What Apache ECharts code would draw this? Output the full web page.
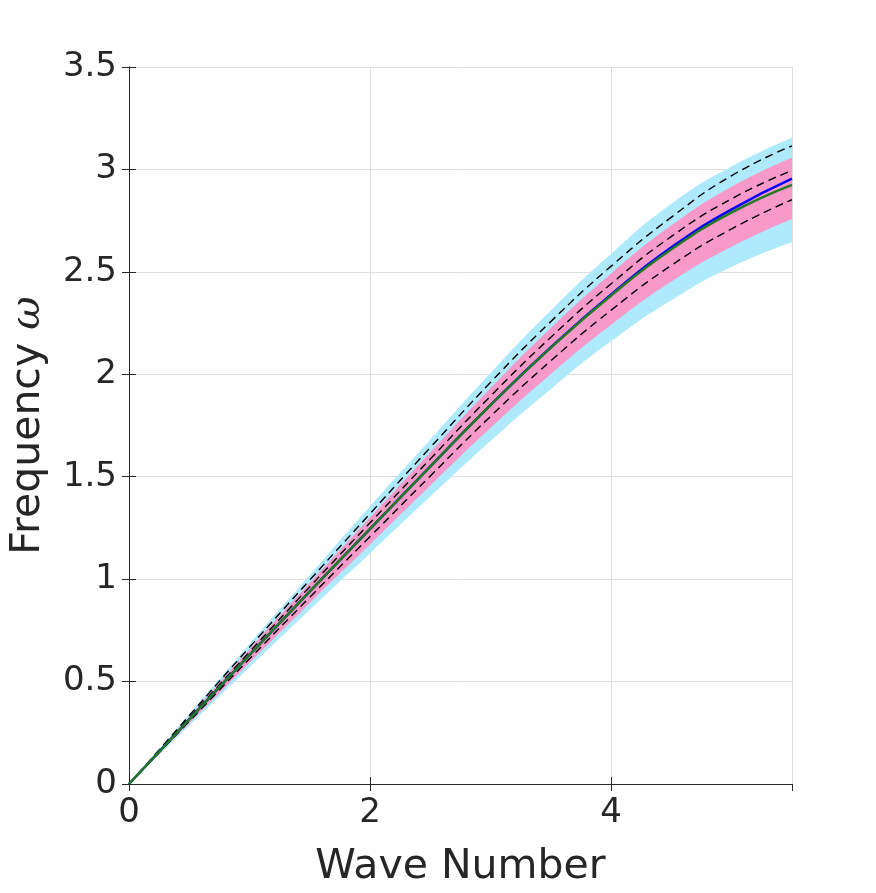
<!DOCTYPE html>
<html>
<head>
    <meta charset="utf-8">
    <title>Dispersion</title>
    <script src="https://cdn.jsdelivr.net/npm/echarts@6/dist/echarts.min.js"></script>
    <style>
        html, body { margin: 0; padding: 0; background: #fff; }
    </style>
</head>
<body>
    <div id="main" style="width: 876px;height:893px;"></div>
    <script type="text/javascript">
        // values
        var waveNumber = [0, 0.5, 1, 1.5, 2, 2.5, 3, 3.5, 4, 4.5, 5, 5.5];
        var omegaGreen = [0, 0.315, 0.63, 0.94, 1.245, 1.55, 1.85, 2.13, 2.385, 2.61, 2.79, 2.925];
        var omegaBlue  = [0, 0.315, 0.63, 0.94, 1.245, 1.55, 1.851, 2.132, 2.39, 2.62, 2.805, 2.955];
        var dashUpper  = [0, 0.334, 0.668, 0.996, 1.32, 1.643, 1.961, 2.258, 2.528, 2.767, 2.97, 3.115];
        var dashMid    = [0, 0.323, 0.645, 0.963, 1.275, 1.587, 1.894, 2.181, 2.442, 2.673, 2.857, 2.995];
        var dashLower  = [0, 0.306, 0.611, 0.912, 1.208, 1.504, 1.795, 2.066, 2.313, 2.532, 2.71, 2.852];
        var outerHigh  = [0, 0.342, 0.684, 1.02, 1.356, 1.682, 2.007, 2.311, 2.588, 2.832, 3.015, 3.155];
        var outerLow   = [0, 0.285, 0.57, 0.851, 1.127, 1.403, 1.674, 1.928, 2.162, 2.362, 2.525, 2.645];
        var innerHigh  = [0, 0.329, 0.658, 0.982, 1.301, 1.62, 1.933, 2.226, 2.492, 2.727, 2.916, 3.057];
        var innerLow   = [0, 0.296, 0.592, 0.884, 1.17, 1.457, 1.739, 2.002, 2.242, 2.453, 2.623, 2.758];

        var xTicks = ['0', '2', '4'];
        var yTicks = ['0', '0.5', '1', '1.5', '2', '2.5', '3', '3.5'];

        function pairs(ys) {
            return waveNumber.map(function (k, i) { return [k, ys[i]]; });
        }
        // band pieces are stored as [omega, k] so the stack runs along y
        function flipped(ys) {
            return waveNumber.map(function (k, i) { return [ys[i], k]; });
        }
        function diffs(hi, lo) {
            return waveNumber.map(function (k, i) { return [hi[i] - lo[i], k]; });
        }

        var txt = '#262626';
        var myChart = echarts.init(document.getElementById('main'));

        var bandBase = {
            type: 'line', smooth: true, symbol: 'none', silent: true,
            encode: { x: 1, y: 0 },
            lineStyle: { opacity: 0 }
        };
        function dashed(ys) {
            return {
                type: 'line', smooth: true, symbol: 'none', data: pairs(ys),
                lineStyle: { color: '#000', width: 1.4, type: [8, 5] }, z: 4
            };
        }

        var option = {
            animation: false,
            grid: { left: 123, right: 84, top: 67, bottom: 109 },
            xAxis: [
                {
                    type: 'value', min: 0, max: 5.5, interval: 2,
                    name: 'Wave Number', nameLocation: 'middle', nameGap: 63,
                    nameTextStyle: { fontSize: 41, color: txt, fontFamily: 'DejaVu Sans' },
                    axisLine: { lineStyle: { color: txt, width: 1 } },
                    axisTick: { inside: true, length: 7, lineStyle: { color: txt } },
                    axisLabel: {
                        fontSize: 34, color: txt, margin: 12, fontFamily: 'DejaVu Sans',
                        showMaxLabel: false,
                        formatter: function (v) { return xTicks.indexOf(String(v)) >= 0 ? String(v) : ''; }
                    },
                    splitLine: { show: true, lineStyle: { color: '#dedede', width: 1 } }
                },
                {
                    type: 'value', min: 0, max: 5.5, interval: 2, position: 'top',
                    axisLine: { lineStyle: { color: txt, width: 1 } },
                    axisTick: { inside: true, length: 7, lineStyle: { color: txt } },
                    axisLabel: { show: false },
                    splitLine: { show: false }
                }
            ],
            yAxis: [
                {
                    type: 'value', min: 0, max: 3.5, interval: 0.5,
                    name: 'Frequency {i|ω}', nameLocation: 'middle', nameGap: 80, nameRotate: 90,
                    nameTextStyle: {
                        fontSize: 41, color: txt, fontFamily: 'DejaVu Sans',
                        rich: { i: { fontSize: 41, fontStyle: 'italic', color: txt, fontFamily: 'DejaVu Serif' } }
                    },
                    axisLine: { show: true, lineStyle: { color: txt, width: 1 } },
                    axisTick: { show: true, inside: true, length: 7, lineStyle: { color: txt } },
                    axisLabel: {
                        fontSize: 34, color: txt, margin: 12, fontFamily: 'DejaVu Sans',
                        formatter: function (v) { return yTicks.indexOf(String(v)) >= 0 ? String(v) : ''; }
                    },
                    splitLine: { show: true, lineStyle: { color: '#dedede', width: 1 } }
                },
                {
                    type: 'value', min: 0, max: 3.5, interval: 0.5, position: 'right',
                    axisLine: { show: true, lineStyle: { color: txt, width: 1 } },
                    axisTick: { show: true, inside: true, length: 7, lineStyle: { color: txt } },
                    axisLabel: { show: false },
                    splitLine: { show: false }
                }
            ],
            series: [
                // outer (light blue) band
                Object.assign({}, bandBase, { stack: 'outer', data: flipped(outerLow), z: 1 }),
                Object.assign({}, bandBase, {
                    stack: 'outer', data: diffs(outerHigh, outerLow), z: 1,
                    areaStyle: { color: '#aeeafb', opacity: 1 }
                }),
                // inner (pink) band
                Object.assign({}, bandBase, { stack: 'inner', data: flipped(innerLow), z: 2 }),
                Object.assign({}, bandBase, {
                    stack: 'inner', data: diffs(innerHigh, innerLow), z: 2,
                    areaStyle: { color: '#f799c9', opacity: 1 }
                }),
                dashed(dashUpper),
                dashed(dashMid),
                dashed(dashLower),
                {
                    type: 'line', smooth: true, symbol: 'none', data: pairs(omegaBlue),
                    lineStyle: { color: '#0000ff', width: 2.5 }, z: 5
                },
                {
                    type: 'line', smooth: true, symbol: 'none', data: pairs(omegaGreen),
                    lineStyle: { color: '#237a23', width: 2.5 }, z: 6
                }
            ]
        };

        myChart.setOption(option);
    </script>
</body>
</html>
